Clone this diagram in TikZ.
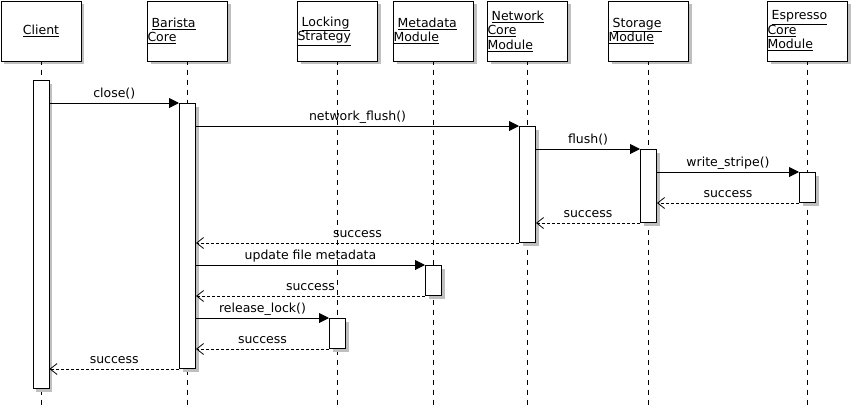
\documentclass[tikz,border=0pt]{standalone}
\usepackage{fontspec}
\setmainfont{DejaVu Sans}
\usetikzlibrary{arrows.meta,shadows}

\begin{document}
\begin{tikzpicture}[x=1pt,y=-1pt,line width=1pt,font=\fontsize{12.5}{14.5}\selectfont]
 \tikzstyle{shade}=[drop shadow={shadow xshift=3pt,shadow yshift=-3pt,fill=black!25,opacity=1}]
 \tikzstyle{head}=[draw,fill=white,shade,anchor=north west,inner sep=0pt,text width=80pt,minimum height=60pt,align=left]
 \tikzstyle{act}=[draw,fill=white,shade,anchor=north,inner sep=0pt,minimum width=16pt]
 \tikzstyle{life}=[dash pattern=on 5pt off 5pt,dash phase=2pt]
 \tikzstyle{call}=[-{Triangle[length=10pt,width=10pt]}]
 \tikzstyle{ret}=[dash pattern=on 3pt off 2pt,-{Straight Barb[length=7pt,width=11pt,line width=0.8pt]}]
 \tikzstyle{msg}=[above=5.5pt,inner sep=0pt,text depth=0pt]
  \useasboundingbox (0,0) rectangle (852,413);
  % participants
  \node[head,align=center] (client) at (0.5,0.5) {\underline{Client}};
  \node[head] (barista) at (147,0.5) {\ \underline{Barista}\\\underline{Core}};
  \node[head] (locking) at (297,0.5) {\ \underline{Locking}\\\underline{Strategy}};
  \node[head] (metadata) at (393,0.5) {\ \underline{Metadata}\\\underline{Module}};
  \node[head] (network) at (487,0.5) {\ \underline{Network}\\\underline{Core}\\\underline{Module}};
  \node[head] (storage) at (608,0.5) {\ \underline{Storage}\\\underline{Module}};
  \node[head] (espresso) at (767,0.5) {\ \underline{Espresso}\\\underline{Core}\\\underline{Module}};
  \foreach \p in {client,barista,locking,metadata,network,storage,espresso}
    \draw[life] (\p.south) -- ++(0,345);
  % activations
  \node[act,minimum height=308pt] (clientAct) at (client.south |- 0,80) {};
  \node[act,minimum height=265pt] (baristaAct) at (barista.south |- 0,103) {};
  \node[act,minimum height=116pt] (networkAct) at (network.south |- 0,126) {};
  \node[act,minimum height=73pt] (storageAct) at (storage.south |- 0,149) {};
  \node[act,minimum height=30pt] (espressoAct) at (espresso.south |- 0,172) {};
  \node[act,minimum height=30pt] (metadataAct) at (metadata.south |- 0,265) {};
  \node[act,minimum height=30pt] (lockingAct) at (locking.south |- 0,318) {};
  % messages
  \draw[call] (clientAct.east |- baristaAct.north) -- node[msg]{close()} (baristaAct.north west);
  \draw[call] (baristaAct.east |- networkAct.north) -- node[msg]{network\_flush()} (networkAct.north west);
  \draw[call] (networkAct.east |- storageAct.north) -- node[msg]{flush()} (storageAct.north west);
  \draw[call] (storageAct.east |- espressoAct.north) -- node[msg]{write\_stripe()} (espressoAct.north west);
  \draw[ret] (espressoAct.south west) -- node[msg]{success} (storageAct.east |- espressoAct.south);
  \draw[ret] (storageAct.south west) -- node[msg]{success} (networkAct.east |- storageAct.south);
  \draw[ret] (networkAct.south west) -- node[msg]{success} (baristaAct.east |- networkAct.south);
  \draw[call] (baristaAct.east |- metadataAct.north) -- node[msg]{update file metadata} (metadataAct.north west);
  \draw[ret] (metadataAct.south west) -- node[msg]{success} (baristaAct.east |- metadataAct.south);
  \draw[call] (baristaAct.east |- lockingAct.north) -- node[msg]{release\_lock()} (lockingAct.north west);
  \draw[ret] (lockingAct.south west) -- node[msg]{success} (baristaAct.east |- lockingAct.south);
  \draw[ret] (baristaAct.south west) -- node[msg]{success} (clientAct.east |- baristaAct.south);
\end{tikzpicture}
\end{document}
